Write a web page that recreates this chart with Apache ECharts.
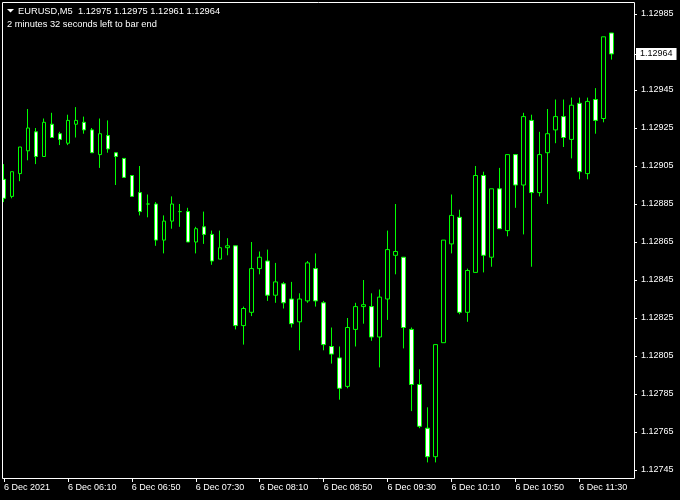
<!DOCTYPE html>
<html><head><meta charset="utf-8">
<script src="https://cdn.jsdelivr.net/npm/echarts@6/dist/echarts.min.js"></script>
<style>html,body{margin:0;padding:0;background:#000}#c{width:680px;height:500px}</style>
</head><body><div id="c"></div>
<script>
const symbolName = 'EURUSD,M5';
const timerText = '2 minutes 32 seconds left to bar end';
const firstDateLabel = '6 Dec 2021';
const dayPrefix = '6 Dec ';
const categories = ['05:30','05:35','05:40','05:45','05:50','05:55',
'06:00','06:05','06:10','06:15','06:20','06:25','06:30','06:35','06:40','06:45','06:50','06:55',
'07:00','07:05','07:10','07:15','07:20','07:25','07:30','07:35','07:40','07:45','07:50','07:55',
'08:00','08:05','08:10','08:15','08:20','08:25','08:30','08:35','08:40','08:45','08:50','08:55',
'09:00','09:05','09:10','09:15','09:20','09:25','09:30','09:35','09:40','09:45','09:50','09:55',
'10:00','10:05','10:10','10:15','10:20','10:25','10:30','10:35','10:40','10:45','10:50','10:55',
'11:00','11:05','11:10','11:15','11:20','11:25','11:30','11:35','11:40','11:45','11:50','11:55','12:00'];
const openPrices = [1.12898,1.12889,1.12901,1.12913,1.12923,1.12910,1.12927,1.12922,1.12917,1.12927,
1.12928,1.12924,1.12911,1.12921,1.12912,1.12909,1.12900,1.12891,1.12885,1.12885,
1.12866,1.12876,1.12881,1.12881,1.12865,1.12873,1.12869,1.12856,1.12862,1.12863,
1.12821,1.12828,1.12851,1.12855,1.12837,1.12843,1.12835,1.12823,1.12834,1.12851,
1.12833,1.12810,1.12804,1.12789,1.12819,1.12831,1.12831,1.12815,1.12835,1.12858,
1.12857,1.12819,1.12790,1.12767,1.12752,1.12812,1.12864,1.12878,1.12828,1.12849,
1.12900,1.12857,1.12893,1.12871,1.12911,1.12895,1.12929,1.12891,1.12912,1.12924,
1.12931,1.12919,1.12938,1.12901,1.12940,1.12930,1.12975];
const highPrices = [1.12906,1.12902,1.12915,1.12935,1.12925,1.12930,1.12933,1.12923,1.12932,1.12936,
1.12931,1.12925,1.12930,1.12929,1.12912,1.12909,1.12900,1.12905,1.12890,1.12886,
1.12879,1.12889,1.12885,1.12883,1.12873,1.12881,1.12871,1.12871,1.12867,1.12863,
1.12831,1.12865,1.12860,1.12861,1.12854,1.12844,1.12844,1.12838,1.12855,1.12859,
1.12834,1.12820,1.12810,1.12825,1.12833,1.12845,1.12838,1.12840,1.12871,1.12885,
1.12857,1.12820,1.12798,1.12778,1.12811,1.12866,1.12890,1.12882,1.12851,1.12905,
1.12902,1.12893,1.12904,1.12911,1.12911,1.12933,1.12932,1.12923,1.12935,1.12940,
1.12940,1.12941,1.12941,1.12941,1.12946,1.12973,1.12975];
const lowPrices = [1.12886,1.12888,1.12897,1.12908,1.12906,1.12910,1.12920,1.12916,1.12916,1.12920,
1.12922,1.12912,1.12904,1.12912,1.12895,1.12899,1.12889,1.12879,1.12878,1.12863,
1.12859,1.12872,1.12873,1.12865,1.12859,1.12864,1.12853,1.12856,1.12858,1.12819,
1.12811,1.12826,1.12848,1.12834,1.12833,1.12830,1.12820,1.12808,1.12833,1.12831,
1.12808,1.12801,1.12782,1.12788,1.12810,1.12822,1.12813,1.12799,1.12824,1.12848,
1.12809,1.12776,1.12767,1.12749,1.12749,1.12812,1.12859,1.12827,1.12823,1.12849,
1.12849,1.12852,1.12872,1.12868,1.12883,1.12869,1.12852,1.12889,1.12885,1.12917,
1.12915,1.12909,1.12898,1.12898,1.12922,1.12928,1.12961];
const closePrices = [1.12888,1.12902,1.12915,1.12925,1.12910,1.12928,1.12920,1.12919,1.12929,1.12929,
1.12924,1.12912,1.12922,1.12914,1.12910,1.12899,1.12889,1.12881,1.12885,1.12866,
1.12876,1.12885,1.12881,1.12865,1.12872,1.12869,1.12855,1.12862,1.12863,1.12821,
1.12830,1.12851,1.12857,1.12837,1.12844,1.12833,1.12822,1.12835,1.12854,1.12834,
1.12811,1.12806,1.12788,1.12820,1.12831,1.12832,1.12815,1.12836,1.12861,1.12860,
1.12820,1.12790,1.12768,1.12752,1.12811,1.12866,1.12879,1.12828,1.12850,1.12900,
1.12858,1.12893,1.12872,1.12911,1.12895,1.12931,1.12891,1.12911,1.12922,1.12931,
1.12920,1.12937,1.12902,1.12939,1.12929,1.12973,1.12964];
const priceTicks = [1.12745,1.12765,1.12785,1.12805,1.12825,1.12845,1.12865,1.12885,1.12905,1.12925,1.12945,1.12985];

const FONT = '"Liberation Sans", Arial, sans-serif';
const last = openPrices.length - 1;
const lastClose = closePrices[last];
const headerText = symbolName + '  ' + [openPrices[last], highPrices[last], lowPrices[last], closePrices[last]].map(v => v.toFixed(5)).join(' ');
const candleData = openPrices.map((o, i) => [o, closePrices[i], lowPrices[i], highPrices[i]]);

const chart = echarts.init(document.getElementById('c'), null, {renderer: 'canvas'});
const baseGraphic = [
  {id: 'frame', type: 'rect', z: 100, shape: {x: 2.5, y: 2.5, width: 632, height: 476}, style: {fill: 'none', stroke: '#fff', lineWidth: 1}},
  {id: 'tri', type: 'polygon', z: 100, shape: {points: [[7, 9], [14, 9], [10.5, 12.5]]}, style: {fill: '#fff'}},
  {id: 'hdr', type: 'text', z: 100, x: 18, y: 11, style: {text: headerText, fill: '#fff', font: '9.3px ' + FONT, verticalAlign: 'middle'}},
  {id: 'tmr', type: 'text', z: 100, x: 7, y: 24, style: {text: timerText, fill: '#fff', font: '9.3px ' + FONT, verticalAlign: 'middle'}}
];
chart.setOption({
  animation: false,
  backgroundColor: '#000',
  grid: {left: -0.7, top: 2, width: 632, height: 476, containLabel: false},
  xAxis: {
    type: 'category', data: categories, boundaryGap: true,
    axisLine: {show: false},
    axisTick: {show: true, interval: 7, alignWithLabel: true, length: 4, lineStyle: {color: '#fff', width: 1}},
    axisLabel: {
      interval: 7, align: 'left', margin: 5, color: '#fff', fontSize: 9, fontFamily: FONT,
      formatter: (v, i) => i === 0 ? firstDateLabel : dayPrefix + v
    },
    splitLine: {show: false}
  },
  yAxis: {
    type: 'value', position: 'right', offset: 2.7,
    min: 1.1274079, max: 1.1299132,
    axisLine: {show: false},
    axisTick: {show: true, length: 3, lineStyle: {color: '#fff'}, customValues: priceTicks.concat([lastClose])},
    axisLabel: {color: '#fff', fontSize: 9, fontFamily: FONT, margin: 7, customValues: priceTicks, formatter: v => v.toFixed(5)},
    splitLine: {show: false}
  },
  series: [{
    type: 'candlestick',
    data: candleData,
    barWidth: 4,
    itemStyle: {color: '#000', color0: '#fff', borderColor: '#00ff00', borderColor0: '#00ff00', borderWidth: 1}
  }],
  graphic: baseGraphic
});
// current price box placed through the library's y scale
const priceY = chart.convertToPixel({yAxisIndex: 0}, lastClose);
chart.setOption({
  graphic: baseGraphic.concat([
    {id: 'pbox', type: 'text', z: 110, x: 636, y: Math.round(priceY),
      style: {text: lastClose.toFixed(5), fill: '#000', backgroundColor: '#fff', padding: [2, 4, 1, 4],
        font: '9px ' + FONT, verticalAlign: 'middle'}}
  ])
});
</script></body></html>
